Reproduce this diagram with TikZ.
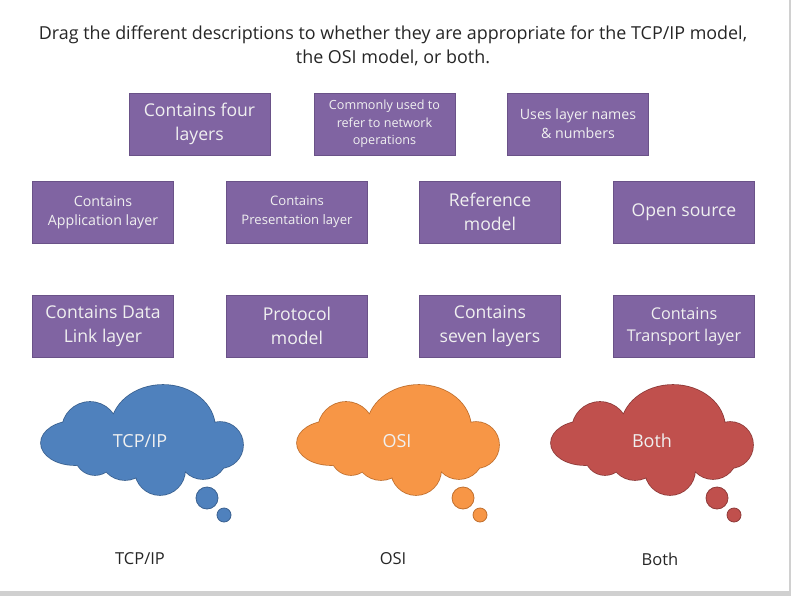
\documentclass[tikz,border=0pt]{standalone}
\usepackage{fontspec}
\setmainfont{Open Sans}
\definecolor{boxfill}{HTML}{8064A2}
\definecolor{boxline}{HTML}{6A5288}
\definecolor{boxtext}{HTML}{F0F0F0}
\definecolor{bluefill}{HTML}{4F81BD}
\definecolor{blueline}{HTML}{3A6190}
\definecolor{orangefill}{HTML}{F79646}
\definecolor{orangeline}{HTML}{C06F2E}
\definecolor{redfill}{HTML}{C0504D}
\definecolor{redline}{HTML}{8E3A38}
\definecolor{inktext}{HTML}{262626}
\definecolor{edgegray}{HTML}{D0D0D0}
\newcommand\cloudlobes{(163,428) ellipse [x radius=52pt,y radius=43pt]
 (90,430) circle [radius=28pt]
 (75,443) ellipse [x radius=34pt,y radius=22pt]
 (95,455) circle [radius=20pt]
 (125,455) circle [radius=25pt]
 (160,470) circle [radius=25pt]
 (203,455) circle [radius=24pt]
 (220,445) circle [radius=23pt]
 (145,445) ellipse [x radius=70pt,y radius=30pt]}
\newcommand\drawcloud[3]{%
 \begin{scope}[shift={(#1,0)}]
  \draw[line width=1.6pt,draw=#3] \cloudlobes;
  \fill[#2] \cloudlobes;
  \draw[line width=0.8pt,draw=#3,fill=#2] (207,498) circle [radius=11pt];
  \draw[line width=0.8pt,draw=#3,fill=#2] (224,515) circle [radius=7pt];
 \end{scope}}
\tikzset{
 card/.style={rectangle,fill=boxfill,draw=boxline,line width=0.6pt,minimum width=141pt,minimum height=62pt,text=boxtext,align=center,inner sep=2pt},
 big/.style={font=\fontsize{17.6}{24}\selectfont},
 mid/.style={font=\fontsize{16.2}{22}\selectfont},
 small/.style={font=\fontsize{14.2}{19}\selectfont},
 tiny/.style={font=\fontsize{12.6}{17.5}\selectfont},
 tinier/.style={font=\fontsize{13.1}{19}\selectfont},
 cloudtext/.style={text=boxtext,font=\fontsize{18}{22}\selectfont},
 label/.style={text=inktext,font=\fontsize{16.5}{20}\selectfont}
}
\begin{document}
\begin{tikzpicture}[x=1pt,y=-1pt]
\useasboundingbox (0,0) rectangle (791,596);
\fill[white] (0,0) rectangle (791,596);
\fill[edgegray] (0,591) rectangle (791,596);
\fill[edgegray] (789,0) rectangle (791,596);

\node[text=inktext,align=center,font=\fontsize{17.9}{24}\selectfont] (title) at (393,46)
 {Drag the different descriptions to whether they are appropriate for the TCP/IP model,\\the OSI model, or both.};

\node[card,big] (four) at (199.5,124) {Contains four\\layers};
\node[card,tiny] (common) at (384.5,124) {Commonly used to\\refer to network\\operations};
\node[card,small] (names) at (578,124) {Uses layer names\\\& numbers};

\node[card,small] (app) at (103,212) {Contains\\Application layer};
\node[card,tinier] (pres) at (297,212) {Contains\\Presentation layer};
\node[card,big] (ref) at (490,212) {Reference\\model};
\node[card,big] (open) at (684,212) {Open source};

\node[card,big] (dlink) at (103,326) {Contains Data\\Link layer};
\node[card,big] (proto) at (297,326) {Protocol\\model};
\node[card,big] (seven) at (490,326) {Contains\\seven layers};
\node[card,mid] (trans) at (684,326) {Contains\\Transport layer};

\drawcloud{0}{bluefill}{blueline}
\drawcloud{256}{orangefill}{orangeline}
\drawcloud{510}{redfill}{redline}

\node[cloudtext] (tcpc) at (140,441) {TCP/IP};
\node[cloudtext] (osic) at (397,441) {OSI};
\node[cloudtext] (bothc) at (652,441) {Both};

\node[label] (tcpl) at (140,559) {TCP/IP};
\node[label] (osil) at (393,559) {OSI};
\node[label] (bothl) at (660,559) {Both};
\end{tikzpicture}
\end{document}
